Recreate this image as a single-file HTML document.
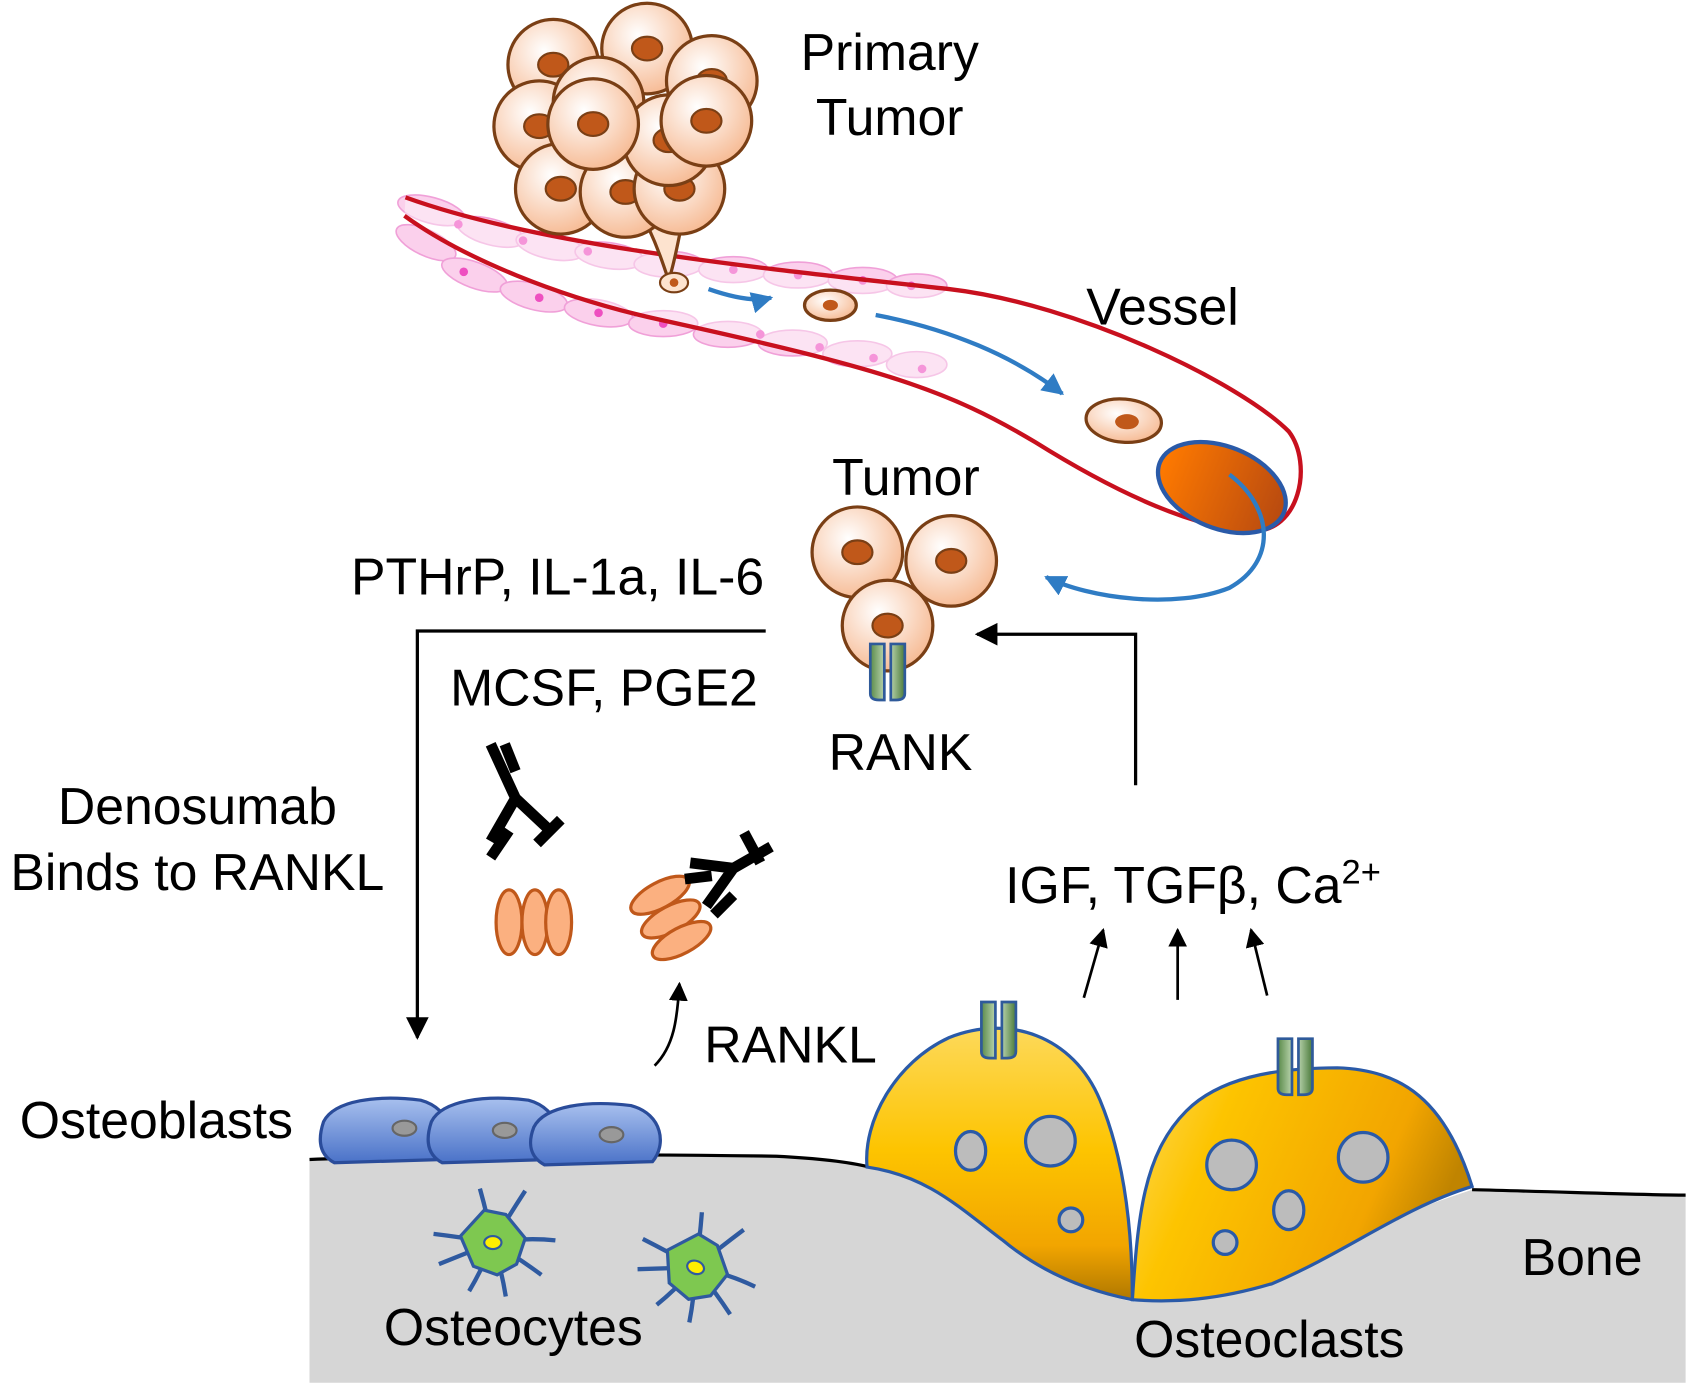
<!DOCTYPE html>
<html><head><meta charset="utf-8"><style>
html,body{margin:0;padding:0;background:#fff;}
svg{display:block;}
text{font-family:"Liberation Sans",Arial,sans-serif;fill:#000;}
</style></head><body>
<svg width="1691" height="1386" viewBox="0 0 1568 1285" preserveAspectRatio="none" xmlns="http://www.w3.org/2000/svg">
<defs>
<radialGradient id="cell" cx="0.4" cy="0.35" r="0.7"><stop offset="0" stop-color="#fff"/><stop offset="1" stop-color="#f6b890"/></radialGradient>
<linearGradient id="oc1" x1="0" y1="0" x2="0" y2="1"><stop offset="0" stop-color="#fdd95a"/><stop offset="0.45" stop-color="#fdc400"/><stop offset="0.8" stop-color="#f2a500"/><stop offset="1" stop-color="#b07800"/></linearGradient>
<linearGradient id="oc2" x1="0" y1="0" x2="1" y2="0.3"><stop offset="0" stop-color="#fdd95a"/><stop offset="0.3" stop-color="#fdc400"/><stop offset="0.8" stop-color="#f2a500"/><stop offset="1" stop-color="#c08400"/></linearGradient>
<linearGradient id="ob" x1="0" y1="0" x2="0" y2="1"><stop offset="0" stop-color="#a8c0ee"/><stop offset="1" stop-color="#4a72c8"/></linearGradient>
<linearGradient id="rk" x1="0" y1="0" x2="1" y2="0"><stop offset="0" stop-color="#5a8a4a"/><stop offset="0.5" stop-color="#cfe5c4"/><stop offset="1" stop-color="#4a7a3a"/></linearGradient>
<linearGradient id="ves" x1="0" y1="0" x2="1" y2="0"><stop offset="0" stop-color="#ff7a00"/><stop offset="1" stop-color="#b84a10"/></linearGradient>
<marker id="ah" viewBox="0 0 10 10" refX="9" refY="5" markerWidth="7" markerHeight="7" orient="auto"><path d="M0,0L10,5L0,10z" fill="#000"/></marker>
<marker id="bh" viewBox="0 0 10 10" refX="9" refY="5" markerWidth="5" markerHeight="5" orient="auto"><path d="M0,0L10,5L0,10z" fill="#2f7cc4"/></marker>
<g id="c"><circle r="42" fill="url(#cell)" stroke="#7a3f15" stroke-width="3"/><ellipse rx="14" ry="11" fill="#c0581a" stroke="#7a3f15" stroke-width="2"/></g>
<g id="rank"><path d="M-16,-28 v46 q0,6 8,6 h5 v-52 z M3,-28 v52 h5 q8,0 8,-6 v-46 z" fill="url(#rk)" stroke="#2f5a9a" stroke-width="2.5"/></g>
<g id="ocy"><path d="M0,0 Q-30,-5 -55,-8 M0,0 Q-25,10 -50,20 M0,0 Q-5,-25 -12,-50 M0,0 Q15,-25 30,-48 M0,0 Q30,-5 58,-2 M0,0 Q25,15 45,30 M0,0 Q8,25 12,50 M0,0 Q-10,25 -22,45" stroke="#2f5aa0" stroke-width="4" fill="none"/><path d="M-30,-6 L-8,-30 L12,-26 L30,-4 L22,20 L4,30 L-18,22 Z" fill="#7ec850" stroke="#2f5aa0" stroke-width="3"/><ellipse rx="8" ry="6" fill="#ffee00" stroke="#2f5aa0" stroke-width="2"/></g>
</defs>

<!-- bone -->
<path d="M287,1075 C400,1070 600,1070 720,1072 C760,1074 790,1078 806,1082 C860,1090 890,1120 930,1150 C960,1175 1000,1195 1050,1207 C1130,1207 1250,1140 1365,1103 C1450,1105 1520,1108 1563,1108 L1563,1282 L287,1282 Z" fill="#d6d6d6"/>
<path d="M287,1075 C400,1070 600,1070 720,1072 C760,1074 790,1078 806,1082 M1365,1103 C1450,1105 1520,1108 1563,1108" fill="none" stroke="#000" stroke-width="3"/>

<!-- vessel pink cells -->
<g fill="#fbd0ec" stroke="#f0a0d8" stroke-width="1.5">
<ellipse cx="400" cy="195" rx="32" ry="12" transform="rotate(15 400 195)"/><ellipse cx="455" cy="215" rx="32" ry="12" transform="rotate(15 455 215)"/><ellipse cx="510" cy="228" rx="32" ry="12" transform="rotate(12 510 228)"/><ellipse cx="565" cy="237" rx="32" ry="12" transform="rotate(8 565 237)"/><ellipse cx="620" cy="245" rx="32" ry="12"/><ellipse cx="680" cy="250" rx="32" ry="12"/><ellipse cx="740" cy="255" rx="32" ry="12"/><ellipse cx="800" cy="260" rx="32" ry="12"/><ellipse cx="850" cy="265" rx="28" ry="11"/>
<ellipse cx="395" cy="225" rx="30" ry="12" transform="rotate(25 395 225)"/><ellipse cx="440" cy="255" rx="32" ry="12" transform="rotate(20 440 255)"/><ellipse cx="495" cy="275" rx="32" ry="12" transform="rotate(15 495 275)"/><ellipse cx="555" cy="290" rx="32" ry="12" transform="rotate(10 555 290)"/><ellipse cx="615" cy="300" rx="32" ry="12"/><ellipse cx="675" cy="310" rx="32" ry="12"/><ellipse cx="735" cy="318" rx="32" ry="12"/><ellipse cx="795" cy="328" rx="32" ry="12"/><ellipse cx="850" cy="338" rx="28" ry="12"/>
</g>
<g fill="#ee4fc0"><circle cx="425" cy="208" r="4"/><circle cx="485" cy="223" r="4"/><circle cx="545" cy="233" r="4"/><circle cx="620" cy="245" r="4"/><circle cx="680" cy="250" r="4"/><circle cx="740" cy="255" r="4"/><circle cx="800" cy="260" r="4"/><circle cx="845" cy="265" r="4"/><circle cx="430" cy="252" r="4"/><circle cx="500" cy="276" r="4"/><circle cx="555" cy="290" r="4"/><circle cx="615" cy="300" r="4"/><circle cx="705" cy="310" r="4"/><circle cx="760" cy="322" r="4"/><circle cx="810" cy="332" r="4"/><circle cx="855" cy="342" r="4"/></g>
<!-- vessel walls -->
<path d="M376,183 C500,228 700,248 880,268 C1000,282 1150,355 1195,400 C1218,430 1205,495 1160,492 C1110,490 1040,460 960,410 C880,362 820,342 610,296 C520,276 430,240 375,200" fill="#fff" fill-opacity="0.4" stroke="#c8101e" stroke-width="4"/>
<ellipse cx="1133" cy="452" rx="62" ry="38" transform="rotate(22 1133 452)" fill="url(#ves)" stroke="#2a5aa8" stroke-width="4"/>

<!-- primary tumor cluster -->
<use href="#c" transform="translate(513,60)"/><use href="#c" transform="translate(600,45)"/><use href="#c" transform="translate(660,75)"/>
<use href="#c" transform="translate(500,117)"/><use href="#c" transform="translate(555,95)"/>
<path d="M565,150 C600,200 610,230 620,260 C630,230 630,200 650,150 Z" fill="#fde3cf" stroke="#7a3f15" stroke-width="3"/>
<use href="#c" transform="translate(520,175)"/><use href="#c" transform="translate(580,178)"/><use href="#c" transform="translate(630,175)"/>
<use href="#c" transform="translate(620,130)"/><use href="#c" transform="translate(550,115)"/><use href="#c" transform="translate(655,112)"/>
<ellipse cx="625" cy="262" rx="13" ry="9" fill="#fde3cf" stroke="#7a3f15" stroke-width="2"/><circle cx="625" cy="262" r="4" fill="#c0581a"/>
<ellipse cx="770" cy="283" rx="24" ry="14" fill="url(#cell)" stroke="#7a3f15" stroke-width="3"/><ellipse cx="770" cy="283" rx="7" ry="5" fill="#c0581a"/>
<ellipse cx="1042" cy="390" rx="35" ry="20" transform="rotate(5 1042 390)" fill="url(#cell)" stroke="#7a3f15" stroke-width="3"/><ellipse cx="1045" cy="391" rx="11" ry="7" fill="#c0581a"/>
<!-- blue arrows -->
<path d="M657,268 C680,276 700,280 715,276" fill="none" stroke="#2f7cc4" stroke-width="4" marker-end="url(#bh)"/>
<path d="M812,292 C880,305 940,330 985,365" fill="none" stroke="#2f7cc4" stroke-width="4" marker-end="url(#bh)"/>
<path d="M1140,440 C1180,470 1185,520 1140,545 C1090,565 1010,555 970,535" fill="none" stroke="#2f7cc4" stroke-width="4" marker-end="url(#bh)"/>

<!-- tumor -->
<use href="#c" transform="translate(795,512)"/><use href="#c" transform="translate(882,520)"/><use href="#c" transform="translate(823,580)"/>
<use href="#rank" transform="translate(823,625)"/>

<!-- arrows -->
<path d="M710,585 H387 V962" fill="none" stroke="#000" stroke-width="3" marker-end="url(#ah)"/>
<path d="M1053,728 V588 H906" fill="none" stroke="#000" stroke-width="3" marker-end="url(#ah)"/>
<path d="M1005,925 L1023,862" stroke="#000" stroke-width="2.5" marker-end="url(#ah)"/>
<path d="M1092,927 V862" stroke="#000" stroke-width="2.5" marker-end="url(#ah)"/>
<path d="M1175,923 L1160,862" stroke="#000" stroke-width="2.5" marker-end="url(#ah)"/>
<path d="M607,988 C625,970 628,945 630,912" fill="none" stroke="#000" stroke-width="2.5" marker-end="url(#ah)"/>

<!-- antibodies & RANKL -->
<g fill="#fbb080" stroke="#c0581a" stroke-width="3">
<ellipse cx="472" cy="855" rx="12" ry="30"/><ellipse cx="496" cy="855" rx="12" ry="30"/><ellipse cx="518" cy="855" rx="12" ry="30"/>
<ellipse cx="612" cy="830" rx="12" ry="30" transform="rotate(62 612 830)"/><ellipse cx="622" cy="852" rx="12" ry="30" transform="rotate(62 622 852)"/><ellipse cx="632" cy="872" rx="12" ry="30" transform="rotate(62 632 872)"/>
</g>
<g stroke="#000" stroke-width="10" stroke-linecap="butt" fill="none">
<path d="M455,690 L478,740 L510,770 M478,740 L455,780"/><path d="M468,690 L478,715"/><path d="M520,760 L498,782 M455,795 L472,770"/>
<path d="M715,785 L680,805 L655,840 M680,805 L640,800"/><path d="M690,772 L705,800"/><path d="M662,848 L680,830 M635,815 L660,812"/>
</g>

<!-- osteoblasts -->
<g stroke="#2a4c9a" stroke-width="3" fill="url(#ob)">
<path d="M300,1040 C310,1020 350,1015 390,1020 C420,1028 425,1060 410,1075 L310,1078 C295,1070 295,1055 300,1040Z"/>
<path d="M400,1040 C410,1020 450,1015 490,1020 C520,1028 525,1060 510,1075 L410,1078 C395,1070 395,1055 400,1040Z"/>
<path d="M495,1045 C505,1025 545,1020 585,1025 C615,1033 618,1062 605,1077 L505,1080 C490,1072 490,1058 495,1045Z"/>
</g>
<g fill="#999" stroke="#666" stroke-width="2"><ellipse cx="375" cy="1046" rx="11" ry="7"/><ellipse cx="468" cy="1048" rx="11" ry="7"/><ellipse cx="567" cy="1052" rx="11" ry="7"/></g>
<use href="#ocy" transform="translate(457,1152)"/>
<use href="#ocy" transform="translate(645,1175) rotate(20)"/>

<!-- osteoclasts -->
<path d="M804,1082 C800,1040 830,985 880,962 C935,940 995,960 1020,1020 C1045,1080 1050,1150 1050,1205 C1000,1195 960,1175 930,1150 C890,1120 860,1090 804,1082 Z" fill="url(#oc1)" stroke="#2a5aa8" stroke-width="3"/>
<path d="M1050,1205 C1055,1130 1060,1070 1100,1030 C1130,1000 1180,990 1240,990 C1300,992 1340,1020 1365,1100 C1300,1120 1250,1160 1180,1190 C1130,1205 1090,1208 1050,1205Z" fill="url(#oc2)" stroke="#2a5aa8" stroke-width="3"/>
<g fill="#bcbcbc" stroke="#2a5aa8" stroke-width="3">
<ellipse cx="900" cy="1067" rx="14" ry="18"/><circle cx="974" cy="1058" r="23"/><circle cx="993" cy="1131" r="11"/>
<circle cx="1142" cy="1080" r="23"/><circle cx="1264" cy="1073" r="23"/><ellipse cx="1195" cy="1122" rx="14" ry="18"/><circle cx="1136" cy="1152" r="11"/>
</g>
<use href="#rank" transform="translate(926,957)"/>
<use href="#rank" transform="translate(1201,991)"/>

<!-- labels -->
<g font-size="48">
<text x="825" y="65" text-anchor="middle">Primary</text>
<text x="825" y="125" text-anchor="middle">Tumor</text>
<text x="1078" y="301" text-anchor="middle">Vessel</text>
<text x="840" y="459" text-anchor="middle">Tumor</text>
<text x="517" y="551" text-anchor="middle">PTHrP, IL-1a, IL-6</text>
<text x="560" y="654" text-anchor="middle">MCSF, PGE2</text>
<text x="835" y="714" text-anchor="middle">RANK</text>
<text x="183" y="764" text-anchor="middle">Denosumab</text>
<text x="183" y="825" text-anchor="middle">Binds to RANKL</text>
<text x="932" y="837">IGF, TGFβ, Ca<tspan font-size="32" dy="-18">2+</tspan></text>
<text x="733" y="985" text-anchor="middle">RANKL</text>
<text x="145" y="1055" text-anchor="middle">Osteoblasts</text>
<text x="1467" y="1182" text-anchor="middle">Bone</text>
<text x="476" y="1247" text-anchor="middle">Osteocytes</text>
<text x="1177" y="1258" text-anchor="middle">Osteoclasts</text>
</g>
</svg>
</body></html>
